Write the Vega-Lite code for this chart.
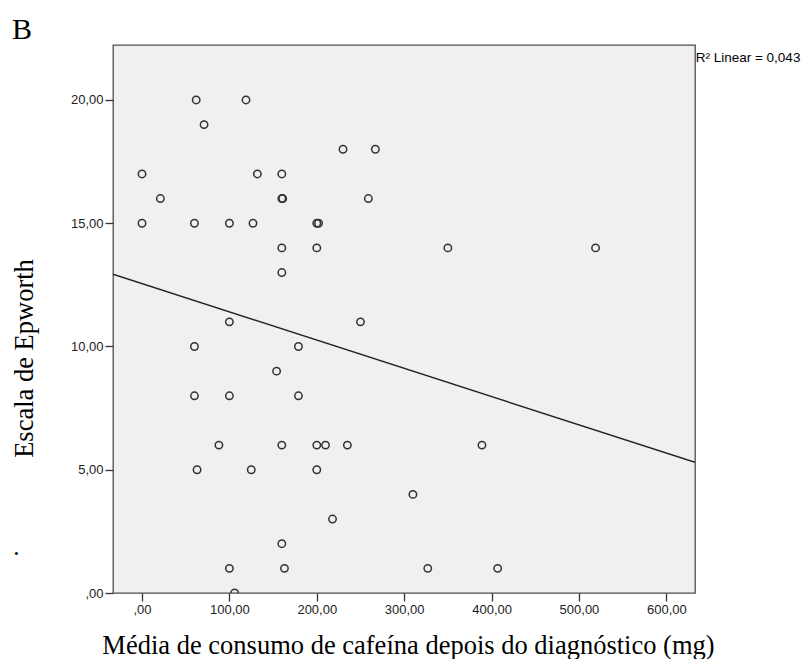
{
  "$schema": "https://vega.github.io/schema/vega-lite/v6.json",
  "autosize": {"type": "none"},
  "width": 582,
  "height": 548,
  "padding": {"left": 113, "top": 45, "right": 106, "bottom": 66},
  "background": "white",
  "title": {"text": "B", "anchor": "start", "frame": "group", "font": "Liberation Serif", "fontSize": 30, "fontWeight": "normal", "color": "#000000", "dx": -101, "dy": 32, "offset": 8, "baseline": "alphabetic"},
  "config": {
    "view": {"fill": "#f0f0f0", "stroke": "#4d4d4d", "strokeWidth": 1.3},
    "axis": {"grid": false, "domain": false, "tickSize": 8, "tickColor": "#333333", "tickWidth": 1.3, "labelFont": "Liberation Sans", "labelFontSize": 13, "labelColor": "#222222", "titleFont": "Liberation Serif", "titleFontSize": 26.5, "titleFontWeight": "normal", "titleColor": "#000000"}
  },
  "datasets": {
    "points": [
      {"cafeina": 62, "epworth": 20}, {"cafeina": 119, "epworth": 20},
      {"cafeina": 71, "epworth": 19},
      {"cafeina": 230, "epworth": 18}, {"cafeina": 267, "epworth": 18},
      {"cafeina": 0, "epworth": 17}, {"cafeina": 132, "epworth": 17}, {"cafeina": 160, "epworth": 17},
      {"cafeina": 21, "epworth": 16}, {"cafeina": 160, "epworth": 16}, {"cafeina": 161, "epworth": 16}, {"cafeina": 259, "epworth": 16},
      {"cafeina": 0, "epworth": 15}, {"cafeina": 60, "epworth": 15}, {"cafeina": 100, "epworth": 15}, {"cafeina": 127, "epworth": 15}, {"cafeina": 200, "epworth": 15}, {"cafeina": 202, "epworth": 15},
      {"cafeina": 160, "epworth": 14}, {"cafeina": 200, "epworth": 14}, {"cafeina": 350, "epworth": 14}, {"cafeina": 519, "epworth": 14},
      {"cafeina": 160, "epworth": 13},
      {"cafeina": 100, "epworth": 11}, {"cafeina": 250, "epworth": 11},
      {"cafeina": 60, "epworth": 10}, {"cafeina": 179, "epworth": 10},
      {"cafeina": 154, "epworth": 9},
      {"cafeina": 60, "epworth": 8}, {"cafeina": 100, "epworth": 8}, {"cafeina": 179, "epworth": 8},
      {"cafeina": 88, "epworth": 6}, {"cafeina": 160, "epworth": 6}, {"cafeina": 200, "epworth": 6}, {"cafeina": 210, "epworth": 6}, {"cafeina": 235, "epworth": 6}, {"cafeina": 389, "epworth": 6},
      {"cafeina": 63, "epworth": 5}, {"cafeina": 125, "epworth": 5}, {"cafeina": 200, "epworth": 5},
      {"cafeina": 310, "epworth": 4},
      {"cafeina": 218, "epworth": 3},
      {"cafeina": 160, "epworth": 2},
      {"cafeina": 100, "epworth": 1}, {"cafeina": 163, "epworth": 1}, {"cafeina": 327, "epworth": 1}, {"cafeina": 407, "epworth": 1},
      {"cafeina": 106, "epworth": 0}
    ],
    "fit": [
      {"cafeina": -33.2, "epworth": 12.93},
      {"cafeina": 632.8, "epworth": 5.30}
    ],
    "r2": [
      {"cafeina": 633.6, "epworth": 21.54, "label": "R² Linear = 0,043"}
    ],
    "dot": [
      {"cafeina": -143.9, "epworth": 1.55, "label": "."}
    ]
  },
  "layer": [
    {
      "data": {"name": "points"},
      "mark": {"type": "point", "shape": "circle", "filled": false, "stroke": "#333333", "strokeWidth": 1.5, "size": 55, "opacity": 1, "clip": true},
      "encoding": {
        "x": {"field": "cafeina", "type": "quantitative",
          "scale": {"domain": [-33.2, 632.8], "nice": false, "zero": false},
          "axis": {"title": "Média de consumo de cafeína depois do diagnóstico (mg)", "values": [0, 100, 200, 300, 400, 500, 600], "labelPadding": 2,
            "labelExpr": "datum.value == 0 ? ',00' : replace(format(datum.value, '.2f'), '.', ',')",
            "titleX": 295, "titleY": 60, "titleAlign": "center", "titleBaseline": "alphabetic"}},
        "y": {"field": "epworth", "type": "quantitative",
          "scale": {"domain": [0, 22.23], "nice": false, "zero": false},
          "axis": {"title": "Escala de Epworth", "values": [0, 5, 10, 15, 20], "labelPadding": 2,
            "labelExpr": "datum.value == 0 ? ',00' : replace(format(datum.value, '.2f'), '.', ',')",
            "titleX": -81, "titleY": 313, "titleAngle": 270, "titleAlign": "center", "titleBaseline": "alphabetic"}}
      }
    },
    {
      "data": {"name": "fit"},
      "mark": {"type": "line", "color": "#222222", "strokeWidth": 1.5, "clip": true},
      "encoding": {
        "x": {"field": "cafeina", "type": "quantitative"},
        "y": {"field": "epworth", "type": "quantitative"}
      }
    },
    {
      "data": {"name": "r2"},
      "mark": {"type": "text", "align": "left", "baseline": "alphabetic", "font": "Liberation Sans", "fontSize": 13.5, "color": "#000000"},
      "encoding": {
        "x": {"field": "cafeina", "type": "quantitative"},
        "y": {"field": "epworth", "type": "quantitative"},
        "text": {"field": "label"}
      }
    },
    {
      "data": {"name": "dot"},
      "mark": {"type": "text", "align": "center", "baseline": "alphabetic", "font": "Liberation Serif", "fontSize": 25, "color": "#000000"},
      "encoding": {
        "x": {"field": "cafeina", "type": "quantitative"},
        "y": {"field": "epworth", "type": "quantitative"},
        "text": {"field": "label"}
      }
    }
  ]
}
